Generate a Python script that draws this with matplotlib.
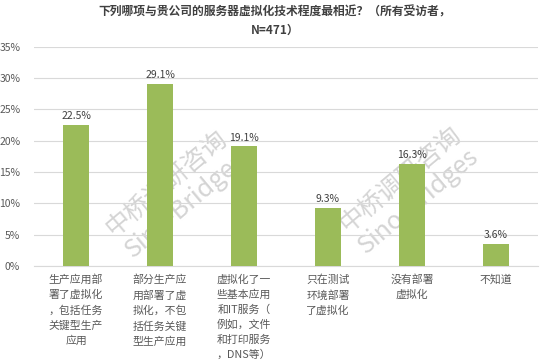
import matplotlib.pyplot as plt
import numpy as np

plt.rcParams['font.family'] = ['Noto Sans CJK SC', 'DejaVu Sans']

# Data
categories = ["生产应用部\n署了虚拟化\n，包括任务\n关键型生产\n应用",
              "部分生产应\n用部署了虚\n拟化，不包\n括任务关键\n型生产应用",
              "虚拟化了一\n些基本应用\n和IT服务（\n例如，文件\n和打印服务\n，DNS等）",
              "只在测试\n环境部署\n了虚拟化",
              "没有部署\n虚拟化",
              "不知道"]
values = [22.5, 29.1, 19.1, 9.3, 16.3, 3.6]
yticks = [0, 5, 10, 15, 20, 25, 30, 35]
title = "下列哪项与贵公司的服务器虚拟化技术程度最相近？（所有受访者，\nN=471）"

fig = plt.figure(figsize=(5.5, 3.63), dpi=100)
ax = fig.add_axes([0.062, 0.267, 0.916, 0.604])

x = np.arange(len(values))
ax.bar(x, values, width=0.31, color='#9BBB59', zorder=3)
for xi, v in zip(x, values):
    ax.text(xi, v + 0.6, f"{v:.1f}%", ha='center', va='bottom',
            fontsize=7.5, color='#404040', zorder=4)

ax.set_xlim(-0.5, len(values) - 0.5)
ax.set_ylim(0, 35)
ax.set_yticks(yticks)
ax.set_yticklabels([f"{t}%" for t in yticks], fontsize=7.5, color='#595959')
ax.set_xticks(x)
ax.set_xticklabels(categories, fontsize=7.8, color='#595959',
                   va='top', linespacing=1.55)
ax.tick_params(axis='both', length=0)
ax.tick_params(axis='y', pad=10)
ax.tick_params(axis='x', pad=6)
ax.grid(axis='y', color='#D9D9D9', linewidth=0.8, zorder=0)
for s in ['top', 'right', 'left']:
    ax.spines[s].set_visible(False)
ax.spines['bottom'].set_color('#D9D9D9')

fig.text(0.5, 0.985, title, ha='center', va='top', fontsize=8.5,
         color='#404040', fontweight='bold', linespacing=1.5)

# watermark (behind bars)
for wx, wy in [(0.32, 0.465), (0.745, 0.475)]:
    ax.text(wx, wy, "中桥调研咨询\nSino-Bridges", ha='center', va='center',
            fontsize=18, color='#D4D4D4', rotation=40,
            transform=fig.transFigure, zorder=1, linespacing=1.1)

fig.savefig("out.png", dpi=100)
